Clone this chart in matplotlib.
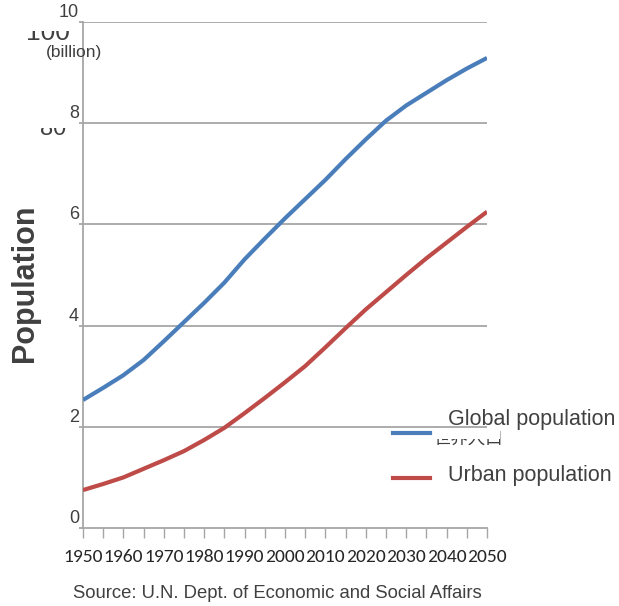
import matplotlib
matplotlib.use("Agg")
import matplotlib.pyplot as plt
from matplotlib import font_manager
from matplotlib.lines import Line2D
from matplotlib.patches import Rectangle
from matplotlib.transforms import ScaledTranslation

# population in billions, every 5 years
years = [1950, 1955, 1960, 1965, 1970, 1975, 1980, 1985, 1990, 1995, 2000,
         2005, 2010, 2015, 2020, 2025, 2030, 2035, 2040, 2045, 2050]
global_pop = [2.53, 2.77, 3.02, 3.32, 3.69, 4.07, 4.45, 4.85, 5.31, 5.72, 6.12,
              6.50, 6.88, 7.29, 7.68, 8.05, 8.35, 8.60, 8.85, 9.08, 9.29]
urban_pop = [0.75, 0.87, 1.00, 1.17, 1.34, 1.52, 1.74, 1.98, 2.27, 2.57, 2.88,
             3.20, 3.57, 3.95, 4.32, 4.66, 5.00, 5.33, 5.64, 5.95, 6.25]

yvals = [0, 2, 4, 6, 8, 10]

W, H = 619, 606
grid_c = "#a6a6a6"
text_c = "#404040"
blue = "#4a7ebb"
red = "#be4b48"

# a condensed face for the year labels
installed = {f.name for f in font_manager.fontManager.ttflist}
narrow_choices = ["Carlito", "Liberation Sans Narrow", "Fira Sans Condensed",
                  "Barlow Semi Condensed", "IBM Plex Sans Condensed",
                  "Roboto Condensed", "PT Sans Narrow", "Archivo Narrow"]
narrow = next((f for f in narrow_choices if f in installed), "Liberation Sans")
narrow_size = 14 if narrow != "Liberation Sans" else 11

plt.rcParams["font.family"] = ["Liberation Sans", "DejaVu Sans"]

fig = plt.figure(figsize=(W / 100, H / 100), dpi=100)
ax = fig.add_axes([83 / W, 1 - 528 / H, (487 - 83) / W, (528 - 22) / H])
ax.patch.set_visible(False)

ax.plot(years, global_pop, color=blue, lw=3, solid_capstyle="butt", zorder=3)
ax.plot(years, urban_pop, color=red, lw=3, solid_capstyle="butt", zorder=3)

ax.set_xlim(1950, 2050)
ax.set_ylim(0, 10)

# horizontal grid
for v in yvals[1:]:
    ax.axhline(v, color=grid_c, lw=1.3, zorder=1)

for s in ["top", "right"]:
    ax.spines[s].set_visible(False)
for s in ["left", "bottom"]:
    ax.spines[s].set_color(grid_c)
    ax.spines[s].set_linewidth(1.3)

ax.set_xticks(range(1950, 2051, 5))
ax.set_xticklabels([str(y) if y % 10 == 0 else "" for y in range(1950, 2051, 5)],
                   family=[narrow, "DejaVu Sans"], fontsize=narrow_size,
                   color="#262626")
ax.tick_params(axis="x", direction="out", length=7, width=1, color=grid_c, pad=8)

ax.set_yticks(yvals)
ax.set_yticklabels([])
ax.tick_params(axis="y", direction="out", length=3, width=1.3, color=grid_c)
up = ScaledTranslation(-4 / 100, 1 / 100, fig.dpi_scale_trans)
for v in yvals:
    ax.text(0, v, str(v), transform=ax.get_yaxis_transform() + up,
            ha="right", va="bottom", fontsize=13, color=text_c)

# old labels, mostly painted over with white
def ghost(x, y, s, size, fam=None):
    fig.text(x / W, 1 - y / H, s, fontsize=size, color=text_c, ha="left",
             va="baseline", family=fam, zorder=-2)

def cover(x0, y0, x1, y1, z=-1):
    fig.patches.append(Rectangle((x0 / W, 1 - y1 / H), (x1 - x0) / W, (y1 - y0) / H,
                                 transform=fig.transFigure, facecolor="white",
                                 edgecolor="none", zorder=z))

ghost(26, 40, "100", 19)
cover(20, 0, 80, 31)
ghost(40, 135, "80", 17)
cover(30, 100, 80, 128)
ghost(433, 444, "世界人口", 12.5, fam=["Noto Sans CJK JP", "DejaVu Sans"])
cover(430, 405, 500, 439)

fig.text(46 / W, 1 - 52 / H, "(billion)", fontsize=12.5, color=text_c,
         ha="left", va="center")
fig.text(25 / W, 1 - 283 / H, "Population", rotation=90, fontsize=22,
         fontweight="bold", color=text_c, ha="center", va="center")
fig.text(277 / W, 1 - 593 / H, "Source: U.N. Dept. of Economic and Social Affairs",
         fontsize=13.3, color=text_c, ha="center", va="center")

# legend
fig.lines.append(Line2D([393 / W, 430 / W], [1 - 433 / H, 1 - 433 / H],
                        transform=fig.transFigure, color=blue, lw=3, zorder=2))
fig.lines.append(Line2D([393 / W, 430 / W], [1 - 478 / H, 1 - 478 / H],
                        transform=fig.transFigure, color=red, lw=3, zorder=2))
fig.text(448 / W, 1 - 420 / H, "Global population", fontsize=15.5, color=text_c,
         ha="left", va="center", zorder=2)
fig.text(448 / W, 1 - 476 / H, "Urban population", fontsize=15.5, color=text_c,
         ha="left", va="center", zorder=2)

fig.savefig("out.png", dpi=100, facecolor="white")
